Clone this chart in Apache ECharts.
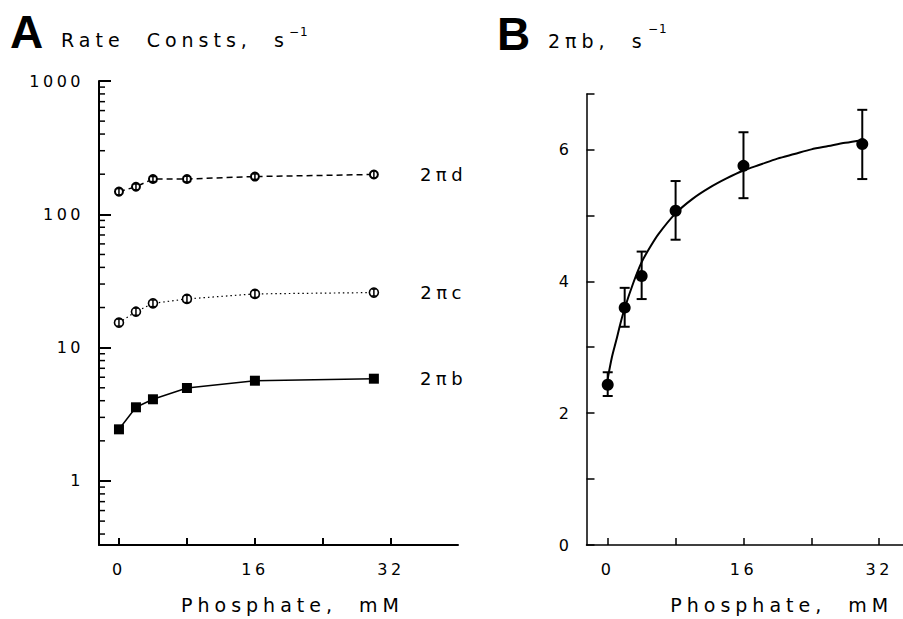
<!DOCTYPE html>
<html><head><meta charset="utf-8">
<script src="https://cdn.jsdelivr.net/npm/echarts@6/dist/echarts.min.js"></script>
<style>
html,body{margin:0;padding:0;background:#fff;}
#chart{width:903px;height:619px;}
#chart text{letter-spacing:3.5px;}
#chart text[style*="19px"]{letter-spacing:5px;}
#chart text[style*="18px"]{letter-spacing:4.5px;}
#chart text[style*="12px"]{letter-spacing:1px;}
#chart text[style*="46px"]{letter-spacing:0;}
</style></head><body><div id="chart"></div>
<script>
// ---- data ----
const phosphate = [0, 2, 4, 8, 16, 30];
const rate2pib = [2.44, 3.57, 4.10, 4.98, 5.65, 5.85];
const rate2pic = [15.4, 18.6, 21.5, 23.2, 25.3, 25.9];
const rate2picLow = [14.5, 17.5, 20.3, 21.8, 23.8, 24.4];
const rate2picHigh = [16.4, 19.8, 22.8, 24.7, 26.9, 27.5];
const rate2pid = [148, 161, 184, 184, 192, 199];
const rate2pidLow = [140, 153, 176, 175, 183, 187];
const rate2pidHigh = [156, 169, 192, 193, 201, 212];
const bValues = [2.43, 3.60, 4.08, 5.07, 5.75, 6.08];
const bLow = [2.26, 3.31, 3.73, 4.63, 5.26, 5.55];
const bHigh = [2.62, 3.90, 4.45, 5.52, 6.26, 6.60];
const fitX = [0, 0.5, 1, 1.5, 2, 3, 4, 5, 6, 8, 10, 12, 14, 16, 18, 20, 22, 24, 26, 28, 30];
const fitY = [2.52, 2.85, 3.10, 3.36, 3.59, 3.97, 4.29, 4.52, 4.72, 5.03, 5.25, 5.42, 5.56, 5.68, 5.77, 5.86, 5.93, 6.00, 6.05, 6.10, 6.14];
const logMajorTicks = [1, 10, 100, 1000];
const logMinorTicks = [0.4, 0.5, 0.6, 0.7, 0.8, 0.9, 2, 3, 4, 5, 6, 7, 8, 9, 20, 30, 40, 50, 60, 70, 80, 90, 200, 300, 400, 500, 600, 700, 800, 900];
const xTicks = [0, 8, 16, 24, 32];
const xTickLabels = [0, 16, 32];
const bYTicks = [0, 1, 2, 3, 4, 5, 6, 6.84];
const bYTickLabels = [0, 2, 4, 6];
const seriesNames = ['2πb', '2πc', '2πd'];

// ---- layout constants ----
const A_XMIN = -2.35, A_XMAX = 39.9, A_YMIN = 0.331, A_YMAX = 1000;
const B_XMIN = -2.5, B_XMAX = 34.8, B_YMIN = 0, B_YMAX = 6.84;
const FONT = 'DejaVu Sans';

const chart = echarts.init(document.getElementById('chart'), null, {renderer: 'svg'});

function zip(xs, ys) { return xs.map((x, i) => [x, ys[i]]); }
function zip3(xs, a, b) { return xs.map((x, i) => [x, a[i], b[i]]); }

function errRender(capHalf, lw) {
  return function (params, api) {
    const x = api.value(0), lo = api.value(1), hi = api.value(2);
    const p1 = api.coord([x, lo]), p2 = api.coord([x, hi]);
    const st = {stroke: '#000', lineWidth: lw};
    const ch = [{type: 'line', shape: {x1: p1[0], y1: p1[1], x2: p2[0], y2: p2[1]}, style: st}];
    if (capHalf > 0) {
      ch.push({type: 'line', shape: {x1: p1[0] - capHalf, y1: p1[1], x2: p1[0] + capHalf, y2: p1[1]}, style: st});
      ch.push({type: 'line', shape: {x1: p2[0] - capHalf, y1: p2[1], x2: p2[0] + capHalf, y2: p2[1]}, style: st});
    }
    return {type: 'group', children: ch};
  };
}

function endLabel(name) {
  return {
    show: true, position: 'right', distance: 41, color: '#000',
    fontFamily: FONT, fontSize: 18,
    formatter: p => (p.dataIndex === phosphate.length - 1 ? name : '')
  };
}

const tickLabelStyle = {color: '#000', fontFamily: FONT, fontSize: 16};
const nameStyle = {color: '#000', fontFamily: FONT, fontSize: 19};

const option = {
  backgroundColor: '#fff',
  animation: false,
  grid: [
    {left: 99, top: 81, width: 359, height: 464},
    {left: 586.5, top: 94, width: 317, height: 453}
  ],
  xAxis: [
    {
      gridIndex: 0, type: 'value', min: A_XMIN, max: A_XMAX,
      splitLine: {show: false},
      axisLine: {onZero: false, lineStyle: {color: '#000', width: 2}},
      axisTick: {inside: true, length: 7, customValues: xTicks, lineStyle: {color: '#000', width: 2}},
      axisLabel: Object.assign({margin: 16, customValues: xTickLabels}, tickLabelStyle),
      name: 'Phosphate,  mM', nameLocation: 'middle', nameGap: 50,
      nameTextStyle: Object.assign({padding: [0, 0, 0, 28]}, nameStyle)
    },
    {
      gridIndex: 1, type: 'value', min: B_XMIN, max: B_XMAX,
      splitLine: {show: false},
      axisLine: {onZero: false, lineStyle: {color: '#000', width: 1.5}},
      axisTick: {inside: true, length: 7, customValues: xTicks, lineStyle: {color: '#000', width: 1.5}},
      axisLabel: Object.assign({margin: 16, customValues: xTickLabels}, tickLabelStyle),
      name: 'Phosphate,  mM', nameLocation: 'middle', nameGap: 50,
      nameTextStyle: Object.assign({padding: [0, 0, 0, 74]}, nameStyle)
    }
  ],
  yAxis: [
    {
      gridIndex: 0, type: 'log', logBase: 10, min: A_YMIN, max: A_YMAX,
      splitLine: {show: false},
      axisLine: {onZero: false, lineStyle: {color: '#000', width: 2}},
      axisTick: {inside: true, length: 12, lineStyle: {color: '#000', width: 2}},
      axisLabel: Object.assign({margin: 15, showMinLabel: false,
        formatter: v => (logMajorTicks.some(t => Math.abs(t - v) < 1e-6 * t) ? String(Math.round(v)) : '')}, tickLabelStyle)
    },
    {
      gridIndex: 1, type: 'value', min: B_YMIN, max: B_YMAX,
      splitLine: {show: false},
      axisLine: {onZero: false, lineStyle: {color: '#000', width: 1.5}},
      axisTick: {inside: true, length: 8, customValues: bYTicks, lineStyle: {color: '#000', width: 1.5}},
      axisLabel: Object.assign({margin: 14, customValues: bYTickLabels}, tickLabelStyle)
    }
  ],
  graphic: [
    {type: 'text', left: 10, top: 9, style: {text: 'A', font: 'bold 46px "Liberation Sans"', fill: '#000'}},
    {type: 'text', left: 61, top: 30, style: {text: 'Rate  Consts,  s', font: '19px "DejaVu Sans"', fill: '#000'}},
    {type: 'text', left: 289, top: 26, style: {text: '−1', font: '12px "DejaVu Sans"', fill: '#000'}},
    {type: 'text', left: 497, top: 11, style: {text: 'B', font: 'bold 46px "Liberation Sans"', fill: '#000'}},
    {type: 'text', left: 548, top: 31, style: {text: '2πb,  s', font: '19px "DejaVu Sans"', fill: '#000'}},
    {type: 'text', left: 648, top: 23, style: {text: '−1', font: '12px "DejaVu Sans"', fill: '#000'}}
  ],
  series: [
    // minor log ticks on panel A
    {
      type: 'custom', xAxisIndex: 0, yAxisIndex: 0, silent: true,
      data: logMinorTicks.map(v => [A_XMIN, v]),
      encode: {x: 0, y: 1},
      renderItem: function (params, api) {
        const p = api.coord([api.value(0), api.value(1)]);
        return {type: 'line', shape: {x1: p[0], y1: p[1], x2: p[0] + 6, y2: p[1]}, style: {stroke: '#000', lineWidth: 1.5}};
      }
    },
    {
      name: seriesNames[0], type: 'line', xAxisIndex: 0, yAxisIndex: 0,
      data: zip(phosphate, rate2pib),
      symbol: 'rect', symbolSize: 10,
      itemStyle: {color: '#000'},
      lineStyle: {color: '#000', width: 1.5},
      label: endLabel('2πb')
    },
    {
      name: seriesNames[1], type: 'line', xAxisIndex: 0, yAxisIndex: 0,
      data: zip(phosphate, rate2pic),
      symbol: 'circle', symbolSize: 9,
      itemStyle: {color: '#fff', borderColor: '#000', borderWidth: 1.6},
      lineStyle: {color: '#000', width: 1.2, type: [1.5, 3]},
      label: endLabel('2πc')
    },
    {
      name: seriesNames[2], type: 'line', xAxisIndex: 0, yAxisIndex: 0,
      data: zip(phosphate, rate2pid),
      symbol: 'circle', symbolSize: 8,
      itemStyle: {color: '#fff', borderColor: '#000', borderWidth: 2},
      lineStyle: {color: '#000', width: 1.5, type: [6, 4]},
      label: endLabel('2πd')
    },
    {
      type: 'custom', xAxisIndex: 0, yAxisIndex: 0, z: 5,
      data: zip3(phosphate, rate2picLow, rate2picHigh),
      encode: {x: 0, y: [1, 2]},
      renderItem: errRender(2, 1.5)
    },
    {
      type: 'custom', xAxisIndex: 0, yAxisIndex: 0, z: 5,
      data: zip3(phosphate, rate2pidLow, rate2pidHigh),
      encode: {x: 0, y: [1, 2]},
      renderItem: errRender(2, 1.5)
    },
    // panel B
    {
      type: 'line', xAxisIndex: 1, yAxisIndex: 1,
      data: zip(fitX, fitY), smooth: 0.3, symbol: 'none',
      lineStyle: {color: '#000', width: 2}
    },
    {
      type: 'custom', xAxisIndex: 1, yAxisIndex: 1,
      data: zip3(phosphate, bLow, bHigh),
      encode: {x: 0, y: [1, 2]},
      renderItem: errRender(5, 2)
    },
    {
      type: 'scatter', xAxisIndex: 1, yAxisIndex: 1, z: 6,
      data: zip(phosphate, bValues),
      symbol: 'circle', symbolSize: 12,
      itemStyle: {color: '#000', opacity: 1}
    }
  ]
};
chart.setOption(option);
</script></body></html>
